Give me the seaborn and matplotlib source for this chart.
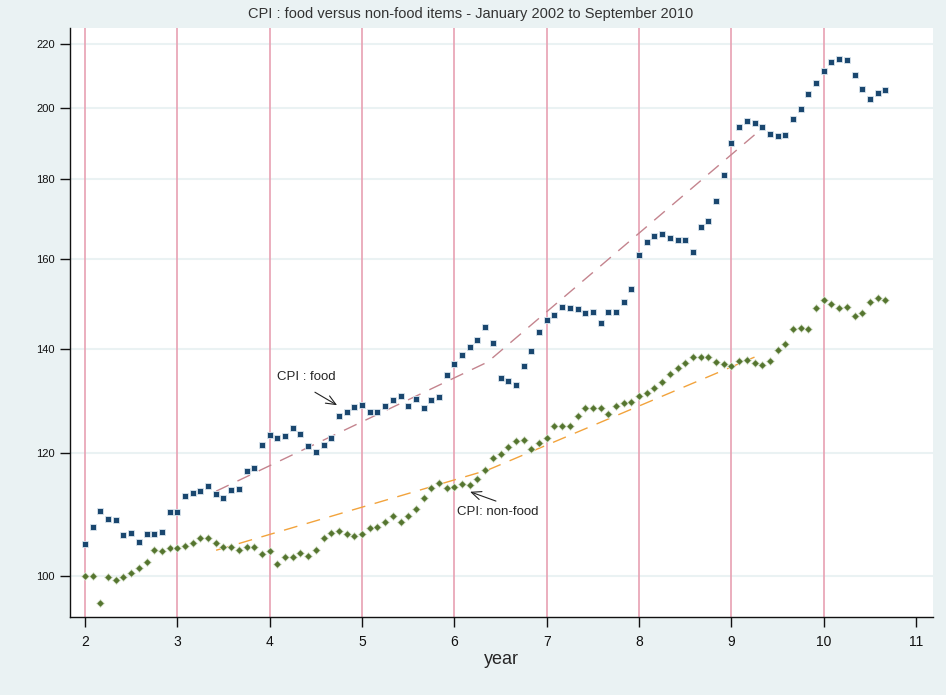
import numpy as np
import pandas as pd
import matplotlib
matplotlib.use("Agg")
import matplotlib.pyplot as plt
import matplotlib.ticker as mticker
import seaborn as sns

# monthly CPI, January 2002 .. September 2010 (year axis: 2 = 2002)
food = [
    104.9, 107.5, 110.2, 108.8, 108.6, 106.3, 106.6, 105.2, 106.5, 106.4, 106.7, 109.9,
    109.9, 112.6, 113.1, 113.4, 114.3, 113.0, 112.2, 113.6, 113.7, 116.8, 117.4, 121.4,
    123.3, 122.7, 123.0, 124.5, 123.4, 121.2, 120.2, 121.4, 122.7, 126.7, 127.5, 128.4,
    128.9, 127.6, 127.5, 128.6, 129.8, 130.5, 128.6, 129.9, 128.3, 129.7, 130.4, 134.7,
    137.0, 138.7, 140.4, 141.9, 144.7, 141.2, 134.0, 133.4, 132.8, 136.4, 139.5, 143.6,
    146.2, 147.2, 148.9, 148.8, 148.5, 147.7, 147.9, 145.5, 147.9, 147.9, 150.0, 153.0,
    160.9, 163.9, 165.4, 166.0, 165.0, 164.5, 164.4, 161.7, 167.7, 169.2, 174.4, 181.1,
    190.0, 194.5, 196.1, 195.6, 194.5, 192.5, 191.9, 192.2, 196.7, 199.7, 204.2, 207.5,
    211.3, 214.1, 215.0, 214.8, 210.0, 205.8, 202.8, 204.5, 205.4,
]
nonfood = [
    100.0, 100.0, 96.1, 99.9, 99.4, 99.8, 100.4, 101.2, 102.1, 103.9, 103.8, 104.2,
    104.2, 104.5, 105.0, 105.8, 105.8, 105.1, 104.4, 104.4, 104.0, 104.4, 104.4, 103.3,
    103.8, 101.8, 102.9, 102.9, 103.5, 103.0, 104.0, 105.8, 106.6, 106.9, 106.4, 106.1,
    106.5, 107.4, 107.5, 108.3, 109.3, 108.3, 109.3, 110.4, 112.2, 114.0, 114.8, 114.0,
    114.1, 114.6, 114.5, 115.5, 117.0, 119.1, 119.8, 121.1, 122.2, 122.3, 120.7, 121.8,
    122.7, 124.8, 124.9, 124.9, 126.8, 128.3, 128.3, 128.3, 127.1, 128.6, 129.2, 129.5,
    130.5, 131.1, 132.1, 133.3, 134.9, 136.1, 137.2, 138.3, 138.4, 138.4, 137.4, 136.9,
    136.5, 137.5, 137.8, 137.1, 136.6, 137.5, 139.8, 141.0, 144.2, 144.3, 144.2, 148.7,
    150.4, 149.7, 148.7, 148.9, 147.0, 147.6, 150.1, 151.0, 150.6,
]
year = [2 + m / 12 for m in range(len(food))]

# dashed trend lines
trend_year = [3.42, 6.36, 9.25]
food_trend = [113.4, 137.3, 192.2]
nonfood_trend = [103.9, 117.0, 138.3]

yticks = [100, 120, 140, 160, 180, 200, 220]
xticks = [2, 3, 4, 5, 6, 7, 8, 9, 10, 11]
vlines = [2, 3, 4, 5, 6, 7, 8, 9, 10]

df = pd.DataFrame({"year": year, "food": food, "nonfood": nonfood})
tr = pd.DataFrame({"year": trend_year, "food": food_trend, "nonfood": nonfood_trend})

sns.set_style("white")
plt.rcParams["font.family"] = ["Liberation Sans Narrow", "Liberation Sans", "DejaVu Sans"]

bg = "#eaf2f3"
fig = plt.figure(figsize=(9.46, 6.95), dpi=100, facecolor=bg)
ax = fig.add_axes([0.074, 0.112, 0.912, 0.847])
ax.set_facecolor("white")

ax.set_yscale("log")
ax.set_ylim(94.1, 225)
ax.set_xlim(1.838, 11.18)

for y in yticks:
    ax.axhline(y, color=bg, lw=1.5, zorder=0)
for x in vlines:
    ax.axvline(x, color="#e8a1b3", lw=1.2, zorder=1)

sns.lineplot(data=tr, x="year", y="food", ax=ax, color="#c4848e", lw=1.0,
             zorder=2).lines[-1].set_dashes((10, 7))
sns.lineplot(data=tr, x="year", y="nonfood", ax=ax, color="#f2a33c", lw=1.0,
             zorder=2).lines[-1].set_dashes((10, 7))

sns.scatterplot(data=df, x="year", y="food", ax=ax, marker="s", s=16,
                color="#1a476f", edgecolor="#dbe6ee", linewidth=0.6, zorder=3)
sns.scatterplot(data=df, x="year", y="nonfood", ax=ax, marker="D", s=16,
                color="#55752f", edgecolor="#dfe8d6", linewidth=0.6, zorder=3)

arrow = dict(arrowstyle="->,head_length=0.7,head_width=0.3", color="#222222", lw=0.8,
             shrinkA=0, shrinkB=0)
ax.text(4.40, 134.3, "CPI : food", ha="center", va="center", fontsize=9.5)
ax.annotate("", xy=(4.73, 128.8), xytext=(4.49, 131.3), arrowprops=arrow)
ax.text(6.47, 109.9, "CPI: non-food", ha="center", va="center", fontsize=9.5)
ax.annotate("", xy=(6.17, 113.3), xytext=(6.45, 111.75), arrowprops=arrow)

ax.yaxis.set_major_locator(mticker.FixedLocator(yticks))
ax.yaxis.set_major_formatter(mticker.FixedFormatter([str(v) for v in yticks]))
ax.yaxis.set_minor_locator(mticker.NullLocator())
ax.set_xticks(xticks)
ax.set_xticklabels([str(v) for v in xticks])

for side in ["top", "right"]:
    ax.spines[side].set_visible(False)
for side in ["left", "bottom"]:
    ax.spines[side].set_color("#111111")
    ax.spines[side].set_linewidth(1.0)
ax.tick_params(axis="y", direction="out", length=7, width=1, labelsize=8, pad=4,
               colors="#111111", left=True)
ax.tick_params(axis="x", direction="out", length=7, width=1, labelsize=10, pad=6,
               colors="#111111", bottom=True)

ax.set_xlabel("year", fontsize=13, labelpad=1)
ax.set_ylabel("")

fig.text(0.498, 1 - 14 / 695, "CPI : food versus non-food items - January 2002 to September 2010",
         ha="center", va="center", fontsize=10.5, color="#333333")

fig.savefig("out.png", dpi=100, facecolor=bg)
